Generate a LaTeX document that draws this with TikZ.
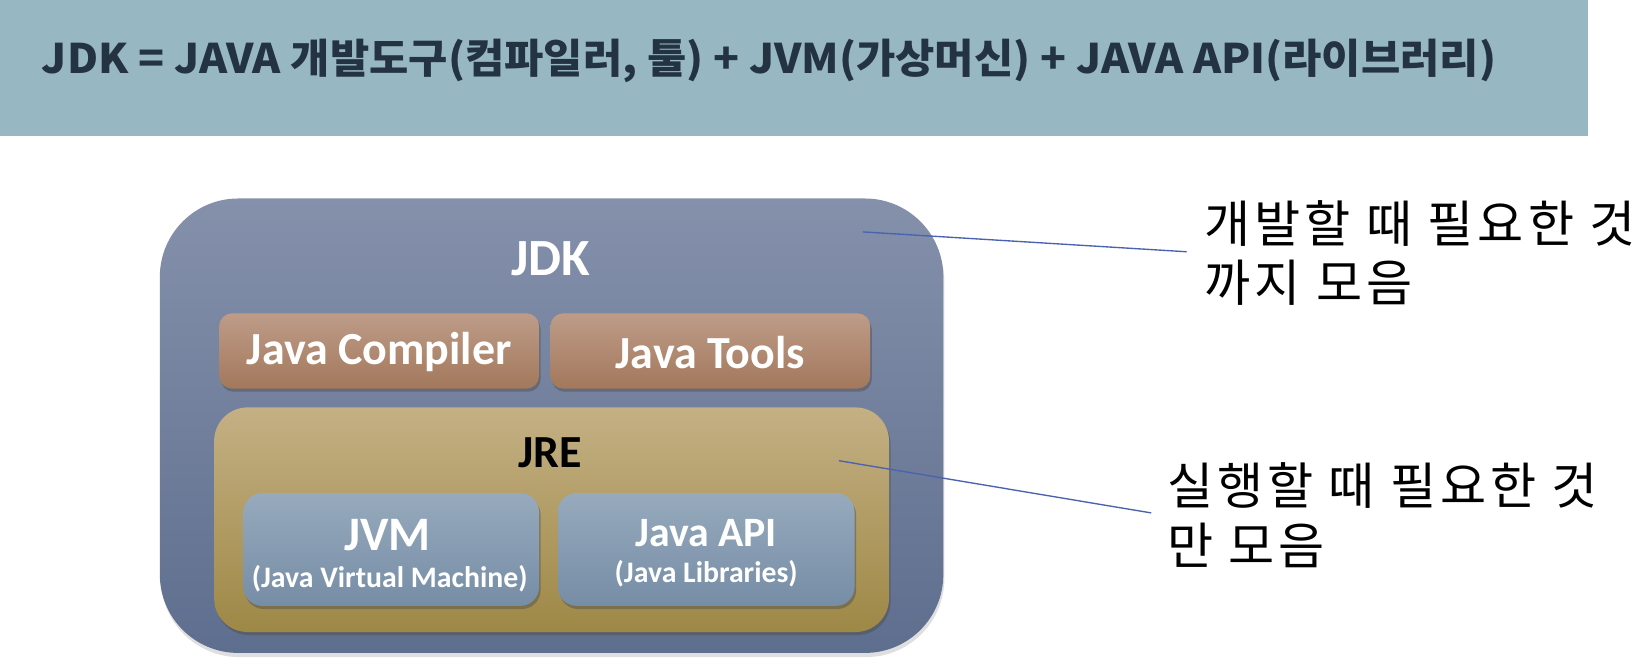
\documentclass[tikz,border=0pt]{standalone}
\usepackage{fontspec}
\usepackage{graphicx}
\setmainfont{Carlito}
\newfontfamily\cjk{Noto Sans CJK KR}
\newfontfamily\cjknote[LetterSpace=8]{Noto Sans CJK KR}
\usetikzlibrary{shadows}
\definecolor{band}{HTML}{97B8C2}
\definecolor{headtxt}{HTML}{243342}
\definecolor{jdktop}{HTML}{8591AB}
\definecolor{jdkbot}{HTML}{5E6E8E}
\definecolor{brtop}{HTML}{BE9C88}
\definecolor{brbot}{HTML}{A3785C}
\definecolor{jretop}{HTML}{C4B084}
\definecolor{jrebot}{HTML}{9E8846}
\definecolor{bltop}{HTML}{97AABD}
\definecolor{blbot}{HTML}{768DA6}
\definecolor{callcol}{HTML}{4A62B0}
\tikzset{
  box/.style={inner sep=0pt, outer sep=0pt, draw=none},
  boxshadow/.style={drop shadow={shadow xshift=1.5pt, shadow yshift=-3pt, opacity=0.45, fill=black!70}},
  lbl/.style={inner sep=0pt, font=\bfseries, text=white},
  callout/.style={draw=callcol, line width=1.3pt},
  note/.style={inner sep=0pt, anchor=base west, font=\cjknote\fontsize{48}{58}\selectfont}
}
\begin{document}
\begin{tikzpicture}[x=1pt,y=-1pt]
\useasboundingbox (0,0) rectangle (1568,637.5);
% header band
\node[box, fill=band, minimum width=1520pt, minimum height=130pt, anchor=north west] (band) at (0,0) {};
\node[inner sep=0pt, anchor=west, text=headtxt] (head) at (40,58)
  {\resizebox{1392pt}{\height}{\cjk\bfseries\fontsize{39}{47}\selectfont JDK = JAVA 개발도구(컴파일러, 툴) + JVM(가상머신) + JAVA API(라이브러리)}};
% JDK
\node[box, rounded corners=75pt, top color=jdktop, bottom color=jdkbot, minimum width=750pt, minimum height=435pt,
  drop shadow={shadow xshift=1pt, shadow yshift=-4pt, opacity=0.25, fill=black!50}] (jdk) at (528,407.5) {};
\node[lbl, font=\bfseries\fontsize{50}{60}\selectfont] (jdkl) at (527,248) {JDK};
% Java Compiler / Tools
\node[box, rounded corners=12pt, top color=brtop, bottom color=brbot, minimum width=306pt, minimum height=72pt, boxshadow] (comp) at (363,336) {};
\node[lbl, font=\bfseries\fontsize{44}{52}\selectfont] (compl) at (363,337) {Java Compiler};
\node[box, rounded corners=12pt, top color=brtop, bottom color=brbot, minimum width=306pt, minimum height=72pt, boxshadow] (tools) at (680,336) {};
\node[lbl, font=\bfseries\fontsize{44}{52}\selectfont] (toolsl) at (680,337) {Java Tools};
% JRE
\node[box, rounded corners=32pt, top color=jretop, bottom color=jrebot, minimum width=646pt, minimum height=215pt, boxshadow] (jre) at (528,497.5) {};
\node[lbl, text=black, font=\bfseries\fontsize{44}{52}\selectfont] (jrel) at (527,433) {JRE};
% JVM / Java API
\node[box, rounded corners=18pt, top color=bltop, bottom color=blbot, minimum width=283pt, minimum height=108pt, boxshadow] (jvm) at (374.5,526) {};
\node[lbl, font=\bfseries\fontsize{46}{54}\selectfont] (jvml) at (371,512) {JVM};
\node[lbl, font=\bfseries\fontsize{28.5}{33}\selectfont] (jvms) at (373,554) {(Java Virtual Machine)};
\node[box, rounded corners=18pt, top color=bltop, bottom color=blbot, minimum width=284pt, minimum height=108pt, boxshadow] (api) at (676,526) {};
\node[lbl, font=\bfseries\fontsize{40}{48}\selectfont] (apil) at (676,510) {Java API};
\node[lbl, font=\bfseries\fontsize{28.5}{33}\selectfont] (apis) at (676,549) {(Java Libraries)};
% callouts
\node[note] (n1a) at (1153,232) {개발할 때 필요한 것};
\node[note] (n1b) at (1153,289) {까지 모음};
\node[note] (n2a) at (1117,483) {실행할 때 필요한 것};
\node[note] (n2b) at (1117,540) {만 모음};
\coordinate (c1a) at (826,222);
\coordinate (c1b) at (1136,241);
\coordinate (c2a) at (803,441);
\coordinate (c2b) at (1102,491);
\draw[callout] (c1a) -- (c1b);
\draw[callout] (c2a) -- (c2b);
\end{tikzpicture}
\end{document}
